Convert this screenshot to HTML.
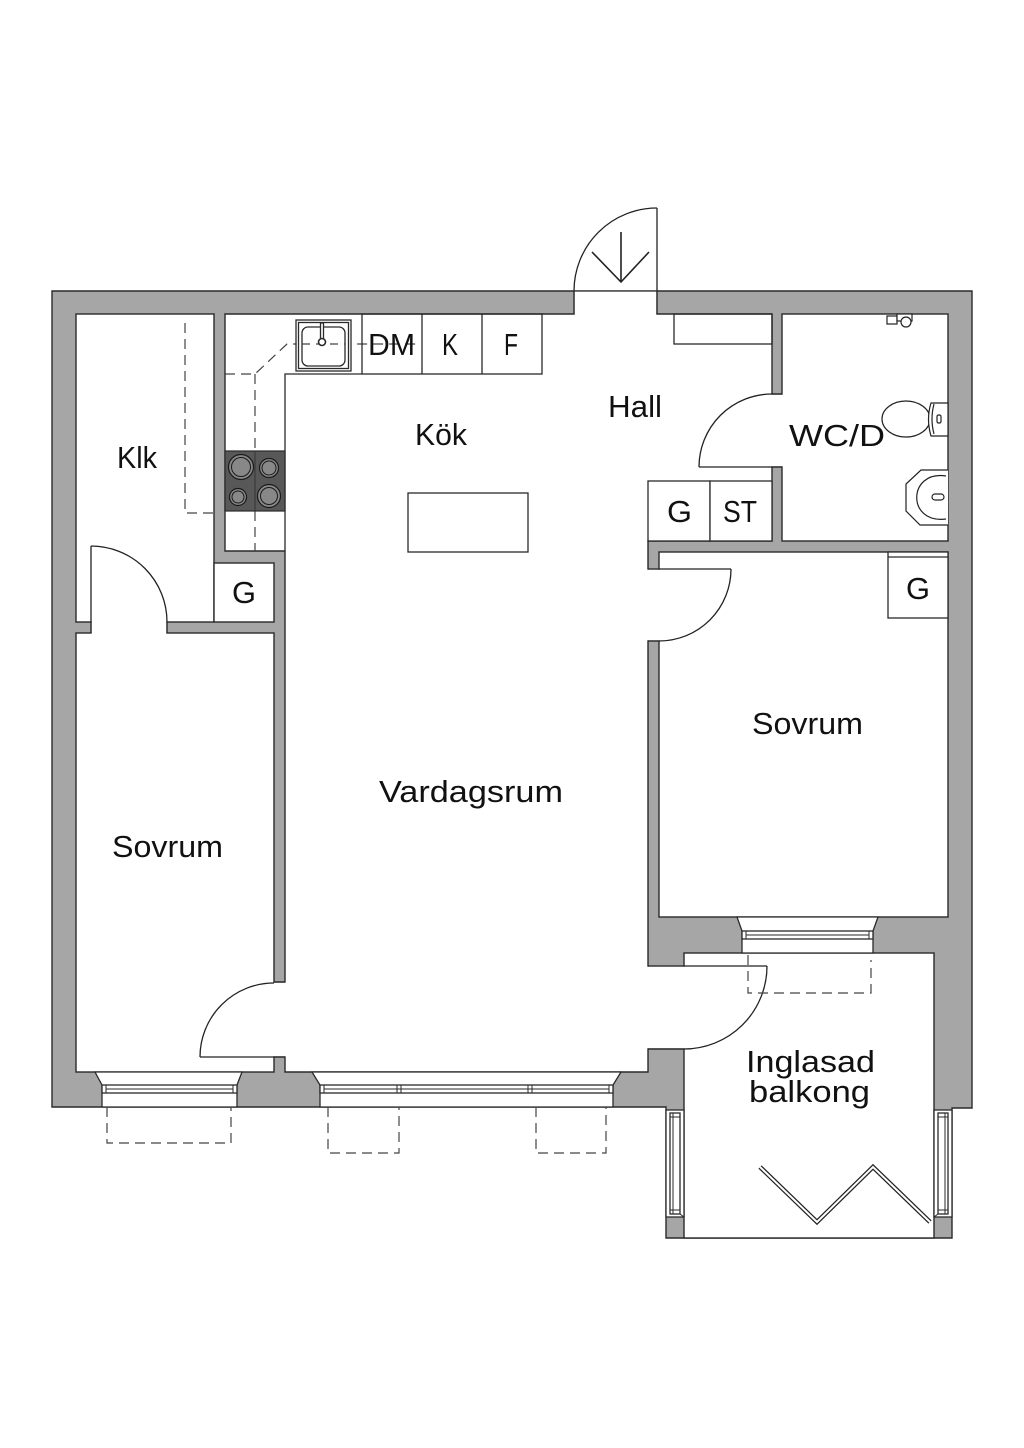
<!DOCTYPE html>
<html><head><meta charset="utf-8"><style>
html,body{margin:0;padding:0;background:#fff;}
svg{display:block;}
text{font-family:"Liberation Sans",sans-serif;font-size:31px;fill:#111;}
</style></head><body>
<svg width="1024" height="1448" viewBox="0 0 1024 1448" xmlns="http://www.w3.org/2000/svg">
<rect width="1024" height="1448" fill="#fff"/>
<g stroke="#2a2a2a" stroke-width="1.4">
<path d="M52,291 H972 V1108 H952 V1238 H666 V1107 H52 Z" fill="#a6a6a6"/>
<rect x="76" y="314" width="138" height="308" fill="#fff"/>
<rect x="214" y="563" width="60" height="59" fill="#fff"/>
<rect x="76" y="633" width="198" height="439" fill="#fff"/>
<path d="M225,314 H772 V541 H648 V1072 H285 V551 H225 Z" fill="#fff"/>
<rect x="782" y="314" width="166" height="227" fill="#fff"/>
<rect x="659" y="552" width="289" height="365" fill="#fff"/>
<rect x="684" y="953" width="250" height="285" fill="#fff"/>
</g>
<g fill="#fff" stroke="none">
<rect x="574.7" y="291.7" width="81.6" height="23.5"/>
<rect x="91.7" y="621" width="74.6" height="13"/>
<rect x="273" y="982.7" width="13" height="73.6"/>
<rect x="771" y="394.7" width="12" height="71.6"/>
<rect x="647" y="569.7" width="13" height="70.6"/>
<rect x="647" y="966.7" width="38" height="81.6"/>
</g>
<g stroke="#2a2a2a" stroke-width="1.4" fill="none">
<path d="M574,291 V314 M657,291 V314"/>
<path d="M167,622 V633"/>
<path d="M274,982 H285 M274,1057 H285"/>
<path d="M772,394 H782 M772,467 H782"/>
<path d="M648,641 H659"/>
<path d="M648,1049 H684"/>
</g>
<!-- doors -->
<g stroke="#222" stroke-width="1.3" fill="none">
<path d="M657,291 V208"/>
<path d="M657,208 A83,83 0 0 0 574,291"/>
<path d="M621,232 V282 M592,252 L621,282 L649,252" stroke-width="1.6"/>
<path d="M91,633 V546"/>
<path d="M91,546 A76,76 0 0 1 167,622"/>
<path d="M274,1057 H200"/>
<path d="M200,1057 A74,74 0 0 1 274,983"/>
<path d="M772,467 H699"/>
<path d="M699,467 A73,73 0 0 1 772,394"/>
<path d="M648,569 H731"/>
<path d="M731,569 A72,72 0 0 1 659,641"/>
<path d="M648,966 H767"/>
<path d="M767,966 A83,83 0 0 1 684,1049"/>
</g>
<!-- windows -->
<g stroke="#2a2a2a" stroke-width="1.3" fill="#fff">
<polygon points="737,917 878,917 873,931 873,953 742,953 742,931"/>
<rect x="742" y="931" width="131" height="8"/>
<polygon points="95,1072 242,1072 237,1085 237,1107 102,1107 102,1085"/>
<rect x="102" y="1085" width="135" height="8"/>
<polygon points="312,1072 621,1072 613,1085 613,1107 320,1107 320,1085"/>
<rect x="320" y="1085" width="293" height="8"/>
<rect x="666" y="1110" width="18" height="107"/>
<rect x="670" y="1113" width="10" height="101"/>
<rect x="934" y="1110" width="18" height="107"/>
<rect x="938" y="1113" width="10" height="101"/>
</g>
<g stroke="#2a2a2a" stroke-width="1" fill="none">
<path d="M746,935 H869 M746,931 V939 M869,931 V939"/>
<path d="M106,1089 H233 M106,1085 V1093 M233,1085 V1093"/>
<path d="M324,1089 H609 M324,1085 V1093 M609,1085 V1093 M397,1085 V1093 M401,1085 V1093 M528,1085 V1093 M532,1085 V1093"/>
<path d="M673,1113 V1214 M670,1117 H680 M670,1210 H680"/>
<path d="M945,1113 V1214 M938,1117 H948 M938,1210 H948"/>
<path d="M684,1217 L680,1214 M934,1217 L938,1214"/>
</g>
<!-- dashed -->
<g stroke="#444" stroke-width="1.2" fill="none" stroke-dasharray="10 6">
<path d="M185,323 V513 H214"/>
<path d="M225,374 H255 L287,344 H420"/>
<path d="M255,374 V451 M255,511 V551"/>
<path d="M107,1107 V1143 H231 V1107"/>
<path d="M328,1107 V1153 H399 V1107"/>
<path d="M536,1107 V1153 H606 V1107"/>
<path d="M748,955 V993 H871 V960"/>
</g>
<!-- kitchen -->
<g stroke="#2a2a2a" stroke-width="1.3" fill="none">
<path d="M285,551 V374 H362"/>
<rect x="362" y="314" width="180" height="60"/>
<path d="M422,314 V374 M482,314 V374"/>
<rect x="296" y="320" width="55" height="51" fill="#fff"/>
<rect x="298.5" y="322.5" width="50" height="46"/>
<rect x="302" y="327" width="43" height="39" rx="6"/>
<path d="M302,344 H345" stroke-dasharray="8 6" stroke="#444"/>
<rect x="320.5" y="323" width="3" height="16" fill="#fff"/>
<circle cx="322" cy="342" r="3.5" fill="#fff" stroke-width="1.6"/>
<rect x="408" y="493" width="120" height="59" fill="#fff"/>
<rect x="674" y="314" width="98" height="30"/>
<rect x="648" y="481" width="62" height="60" fill="#fff"/>
<rect x="710" y="481" width="62" height="60" fill="#fff"/>
<rect x="888" y="552" width="60" height="66" fill="#fff"/>
<path d="M888,557 H948"/>
</g>
<!-- stove -->
<rect x="225" y="451" width="60" height="60" fill="#585858" stroke="#2a2a2a" stroke-width="1.2"/>
<path d="M255,451 V511" stroke="#333" stroke-width="1"/>
<g stroke="#1a1a1a" stroke-width="1.2" fill="#888">
<circle cx="241" cy="467" r="12.5"/>
<circle cx="269" cy="468" r="9.5"/>
<circle cx="238" cy="497" r="8.5"/>
<circle cx="269" cy="496" r="11.5"/>
</g>
<g stroke="#1a1a1a" stroke-width="1" fill="none">
<circle cx="241" cy="467" r="9.5"/>
<circle cx="269" cy="468" r="7"/>
<circle cx="238" cy="497" r="6"/>
<circle cx="269" cy="496" r="8.5"/>
</g>
<!-- WC fixtures -->
<g stroke="#222" stroke-width="1.2" fill="#fff">
<ellipse cx="906" cy="419" rx="24" ry="18"/>
<path d="M931,403 H948 V436 H931 Q926,419 931,403 Z"/>
<path d="M934,404 Q930,419 934,434"/>
<rect x="937" y="415" width="4" height="8" rx="1.5"/>
<path d="M948,470 H921 L906,484 V511 L920,525 H948"/>
<path d="M946,476 C908,470 906,524 946,519"/>
<rect x="932" y="494" width="12" height="6" rx="3"/>
<rect x="887" y="316" width="10" height="8"/>
<rect x="897" y="314" width="15" height="7"/>
<circle cx="906" cy="322" r="5"/>
</g>
<!-- bifold doors -->
<polyline points="760,1167 817,1222 873,1167 930,1222" fill="none" stroke="#222" stroke-width="4.5" stroke-linejoin="miter"/>
<polyline points="760,1167 817,1222 873,1167 930,1222" fill="none" stroke="#fff" stroke-width="2" stroke-linejoin="miter"/>
<!-- labels -->
<g>
<text x="117" y="468" textLength="40" lengthAdjust="spacingAndGlyphs">Klk</text>
<text x="415" y="445" textLength="52" lengthAdjust="spacingAndGlyphs">Kök</text>
<text x="608" y="417" textLength="54" lengthAdjust="spacingAndGlyphs">Hall</text>
<text x="789" y="446" textLength="96" lengthAdjust="spacingAndGlyphs">WC/D</text>
<text x="667" y="522" textLength="25" lengthAdjust="spacingAndGlyphs">G</text>
<text x="723" y="522" textLength="34" lengthAdjust="spacingAndGlyphs">ST</text>
<text x="368" y="355" textLength="47" lengthAdjust="spacingAndGlyphs">DM</text>
<text x="442" y="355" textLength="16" lengthAdjust="spacingAndGlyphs">K</text>
<text x="504" y="355" textLength="14" lengthAdjust="spacingAndGlyphs">F</text>
<text x="906" y="599" textLength="24" lengthAdjust="spacingAndGlyphs">G</text>
<text x="752" y="734" textLength="111" lengthAdjust="spacingAndGlyphs">Sovrum</text>
<text x="232" y="603" textLength="24" lengthAdjust="spacingAndGlyphs">G</text>
<text x="112" y="857" textLength="111" lengthAdjust="spacingAndGlyphs">Sovrum</text>
<text x="379" y="802" textLength="184" lengthAdjust="spacingAndGlyphs">Vardagsrum</text>
<text x="746" y="1072" textLength="129" lengthAdjust="spacingAndGlyphs">Inglasad</text>
<text x="749" y="1102" textLength="121" lengthAdjust="spacingAndGlyphs">balkong</text>
</g>
</svg>
</body></html>
